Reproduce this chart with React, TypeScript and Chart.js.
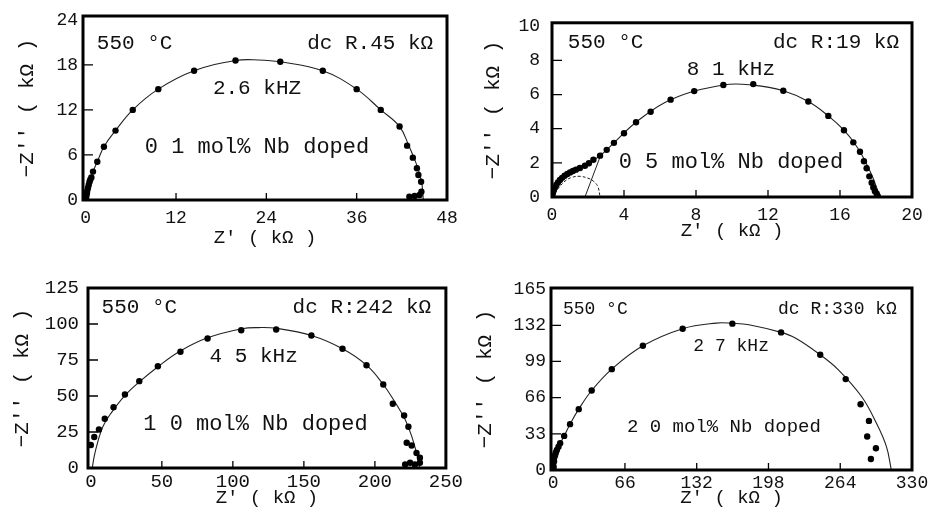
import React, { useEffect, useRef } from "react";
import { Chart, registerables } from "chart.js";
Chart.register(...registerables);

const FONT = "'Liberation Mono', 'DejaVu Sans Mono', monospace";

// ---------- Panel 1 : 0.1 mol% Nb ----------
const P1_X_TICKS = [0, 12, 24, 36, 48];
const P1_Y_TICKS = [0, 6, 12, 18, 24];
const P1_DOT_X = [0, 0.05, 0.1, 0.15, 0.2, 0.3, 0.4, 0.5, 0.6, 0.75, 0.97, 1.54, 2.42, 3.96, 6.25, 9.64, 14.4, 19.9, 25.85, 31.5, 36.0, 39.2, 41.7, 42.7, 43.46, 44.0, 44.2, 44.56, 44.6, 44.35, 43.7, 43.0];
const P1_DOT_Y = [0, 0.3, 0.6, 0.9, 1.2, 1.6, 2.0, 2.4, 2.7, 3.0, 3.78, 5.1, 7.1, 9.24, 12.0, 14.76, 17.2, 18.57, 18.4, 17.2, 14.76, 12.0, 9.78, 7.24, 5.64, 4.22, 3.33, 2.44, 1.1, 0.67, 0.53, 0.44];
const P1_FIT_X = [0.1, 0.5, 0.97, 1.54, 2.42, 3.96, 6.25, 9.64, 14.4, 19.9, 22.9, 25.85, 31.5, 36.0, 39.2, 41.7, 42.9, 43.7, 44.3, 44.7, 44.85];
const P1_FIT_Y = [0, 2.4, 3.78, 5.1, 7.1, 9.24, 12.0, 14.76, 17.2, 18.57, 18.65, 18.4, 17.2, 14.76, 12.0, 9.78, 7.3, 5.4, 3.7, 1.9, 0];

// ---------- Panel 2 : 0.5 mol% Nb ----------
const P2_X_TICKS = [0, 4, 8, 12, 16, 20];
const P2_Y_TICKS = [0, 2, 4, 6, 8, 10];
const P2_DOT_X = [0, 0.02, 0.05, 0.1, 0.16, 0.24, 0.33, 0.44, 0.56, 0.7, 0.85, 1.0, 1.16, 1.33, 1.55, 1.83, 2.05, 2.3, 2.67, 3.04, 3.44, 4.0, 4.67, 5.48, 6.59, 7.9, 9.52, 11.18, 12.85, 14.24, 15.35, 16.22, 16.74, 17.11, 17.33, 17.48, 17.63, 17.76, 17.85, 17.94, 18.04, 18.1];
const P2_DOT_Y = [0, 0.12, 0.25, 0.4, 0.55, 0.7, 0.85, 1.0, 1.12, 1.24, 1.35, 1.44, 1.52, 1.6, 1.7, 1.83, 1.98, 2.18, 2.42, 2.76, 3.17, 3.73, 4.38, 4.99, 5.7, 6.2, 6.56, 6.61, 6.22, 5.59, 4.75, 3.91, 3.2, 2.65, 2.09, 1.68, 1.21, 0.84, 0.56, 0.34, 0.19, 0.05];
const P2_FIT_X = [0, 0.1, 0.33, 0.7, 1.16, 1.83, 2.67, 3.44, 4.67, 6.59, 9.52, 11.18, 12.85, 14.24, 15.35, 16.22, 16.9, 17.4, 17.8, 18.05, 18.2];
const P2_FIT_Y = [0, 0.4, 0.85, 1.24, 1.52, 1.83, 2.42, 3.17, 4.38, 5.7, 6.56, 6.55, 6.22, 5.59, 4.75, 3.91, 3.0, 2.1, 1.2, 0.5, 0];
const P2_ARC_X = [0.3, 0.72, 1.1, 1.56, 2.0, 2.3, 2.55, 2.67];
const P2_ARC_Y = [0.45, 0.93, 1.15, 1.21, 1.1, 0.93, 0.6, 0];
const P2_ANGLE_X = [1.83, 2.76];
const P2_ANGLE_Y = [0, 2.6];

// ---------- Panel 3 : 1.0 mol% Nb ----------
const P3_X_TICKS = [0, 50, 100, 150, 200, 250];
const P3_Y_TICKS = [0, 25, 50, 75, 100, 125];
const P3_DOT_X = [0, 2.4, 5.7, 9.8, 16, 24, 34.1, 47.2, 63.1, 82.2, 105.9, 130.5, 155.3, 177.2, 194.1, 205.9, 212.6, 220.6, 223.6, 222.4, 225.9, 229.3, 231.7, 231.7, 228.2, 224.8, 221.3];
const P3_DOT_Y = [16, 21.5, 26.7, 34.2, 42.2, 51, 60.3, 70.7, 80.7, 89.9, 95.7, 96.2, 92, 82.8, 71.4, 58, 44.6, 36.5, 28.6, 17.5, 15.6, 10.5, 7.1, 3.6, 2.4, 3.6, 2.4];
const P3_FIT_X = [1, 2.4, 4.7, 8.6, 14.4, 23.6, 33.9, 47.7, 62.7, 82.2, 106.3, 118, 130.5, 155.3, 177.2, 194.1, 205.9, 214.4, 221.3, 225.9, 229.3, 231, 231.5];
const P3_FIT_Y = [0, 8.2, 17.5, 29, 38.3, 49.9, 59.6, 70.7, 81.1, 90.4, 96.7, 97.5, 97, 92, 82.8, 71.4, 58, 45.3, 33.7, 22.1, 10.5, 2.4, 0];

// ---------- Panel 4 : 2.0 mol% Nb ----------
const P4_X_TICKS = [0, 66, 132, 198, 264, 330];
const P4_Y_TICKS = [0, 33, 66, 99, 132, 165];
const P4_DOT_X = [0, 0.4, 0, 0.8, 0.3, 1.2, 1.8, 2.5, 3.4, 4.9, 6.4, 10.1, 15.5, 23.5, 35.4, 53.9, 82.5, 119.1, 164.8, 209.6, 245.6, 269, 282.7, 290.4, 288.8, 296.8, 292.2];
const P4_DOT_Y = [1.5, 3, 6.1, 8, 10.7, 12, 13.7, 16, 18.3, 21.3, 24.4, 31.1, 41.8, 55.5, 72.5, 92, 113.3, 128.9, 133.5, 125.5, 105.1, 82.9, 60, 44.8, 30.5, 19.8, 10];
const P4_FIT_X = [0, 1.8, 4.9, 10.1, 15.5, 23.5, 35.4, 53.9, 82.5, 119.1, 150, 164.8, 180, 209.6, 222.7, 245.6, 262.3, 283.6, 297.3, 306.5, 311];
const P4_FIT_Y = [0, 13.7, 21.3, 31.1, 41.8, 55.5, 72.5, 92, 113.3, 128.9, 134, 133.8, 132.5, 125.5, 120.4, 105.1, 91.4, 67, 42.7, 21.3, 0];

const X_TITLE = "Z' ( kΩ )";
const Y_TITLE = "−Z'' ( kΩ )";

const pts = (xs: number[], ys: number[]) => xs.map((x, i) => ({ x, y: ys[i] }));

type Note = { text: string; fx: number; fy: number; align: CanvasTextAlign; size: number };

type PanelCfg = {
  left: number; top: number;
  xMin: number; xMax: number; yMin: number; yMax: number;
  xTicks: number[]; yTicks: number[];
  dots: { x: number; y: number }[];
  fit: { x: number; y: number }[];
  extras?: any[];
  yAxisWidth: number; xAxisHeight: number; padRight: number; padTop: number;
  yTitlePad: number; xTitlePad: number; yTickPad: number; xTickPad: number;
  tickSize: number;
  notes: Note[];
};

const PANELS: PanelCfg[] = [
  {
    left: 0, top: 0, xMin: -0.36, xMax: 48, yMin: 0, yMax: 24.5,
    xTicks: P1_X_TICKS, yTicks: P1_Y_TICKS,
    dots: pts(P1_DOT_X, P1_DOT_Y), fit: pts(P1_FIT_X, P1_FIT_Y),
    yAxisWidth: 83, xAxisHeight: 64, padRight: 19, padTop: 16,
    yTitlePad: 15, xTitlePad: 15, yTickPad: 5, xTickPad: 7, tickSize: 18,
    notes: [
      { text: "550 °C", fx: 0.038, fy: 0.147, align: "left", size: 21 },
      { text: "dc R.45 kΩ", fx: 0.962, fy: 0.147, align: "right", size: 21 },
      { text: "2.6 kHZ", fx: 0.478, fy: 0.391, align: "center", size: 21 },
      { text: "0 1 mol% Nb doped", fx: 0.478, fy: 0.712, align: "center", size: 22 },
    ],
  },
  {
    left: 466, top: 0, xMin: 0, xMax: 20, yMin: 0, yMax: 10.2,
    xTicks: P2_X_TICKS, yTicks: P2_Y_TICKS,
    dots: pts(P2_DOT_X, P2_DOT_Y), fit: pts(P2_FIT_X, P2_FIT_Y),
    extras: [
      { data: pts(P2_ARC_X, P2_ARC_Y), showLine: true, borderColor: "#222", borderWidth: 1, borderDash: [3, 2], pointRadius: 0, tension: 0.4 },
      { data: pts(P2_ANGLE_X, P2_ANGLE_Y), showLine: true, borderColor: "#222", borderWidth: 1, pointRadius: 0 },
    ],
    yAxisWidth: 86, xAxisHeight: 67, padRight: 20, padTop: 14,
    yTitlePad: 15, xTitlePad: 22, yTickPad: 12, xTickPad: 7, tickSize: 18,
    notes: [
      { text: "550 °C", fx: 0.044, fy: 0.115, align: "left", size: 21 },
      { text: "dc R:19 kΩ", fx: 0.964, fy: 0.115, align: "right", size: 21 },
      { text: "8 1 kHz", fx: 0.497, fy: 0.268, align: "center", size: 21 },
      { text: "0 5 mol% Nb doped", fx: 0.497, fy: 0.798, align: "center", size: 22 },
    ],
  },
  {
    left: 0, top: 264, xMin: -2, xMax: 250, yMin: 0, yMax: 125,
    xTicks: P3_X_TICKS, yTicks: P3_Y_TICKS,
    dots: pts(P3_DOT_X, P3_DOT_Y), fit: pts(P3_FIT_X, P3_FIT_Y),
    yAxisWidth: 88, xAxisHeight: 60, padRight: 13, padTop: 24,
    yTitlePad: 10, xTitlePad: 19, yTickPad: 9, xTickPad: 3, tickSize: 19,
    notes: [
      { text: "550 °C", fx: 0.038, fy: 0.106, align: "left", size: 21 },
      { text: "dc R:242 kΩ", fx: 0.959, fy: 0.106, align: "right", size: 21 },
      { text: "4 5 kHz", fx: 0.463, fy: 0.378, align: "center", size: 21 },
      { text: "1 0 mol% Nb doped", fx: 0.468, fy: 0.756, align: "center", size: 22 },
    ],
  },
  {
    left: 466, top: 264, xMin: -2, xMax: 330, yMin: 0, yMax: 166,
    xTicks: P4_X_TICKS, yTicks: P4_Y_TICKS,
    dots: pts(P4_DOT_X, P4_DOT_Y), fit: pts(P4_FIT_X, P4_FIT_Y),
    yAxisWidth: 85, xAxisHeight: 58, padRight: 20, padTop: 24,
    yTitlePad: 7, xTitlePad: 19, yTickPad: 5, xTickPad: 2, tickSize: 18,
    notes: [
      { text: "550 °C", fx: 0.033, fy: 0.115, align: "left", size: 18 },
      { text: "dc R:330 kΩ", fx: 0.958, fy: 0.115, align: "right", size: 18 },
      { text: "2 7 kHz", fx: 0.499, fy: 0.319, align: "center", size: 18 },
      { text: "2 0 mol% Nb doped", fx: 0.479, fy: 0.764, align: "center", size: 19 },
    ],
  },
];

function Panel({ cfg }: { cfg: PanelCfg }) {
  const ref = useRef<HTMLCanvasElement | null>(null);
  useEffect(() => {
    if (!ref.current) return;
    const framePlugin = {
      id: "frame",
      afterDraw(chart: any) {
        const { ctx, chartArea: a, scales } = chart;
        ctx.save();
        ctx.strokeStyle = "#000";
        ctx.lineWidth = 3;
        ctx.strokeRect(a.left, a.top, a.right - a.left, a.bottom - a.top);
        ctx.lineWidth = 1.3;
        ctx.beginPath();
        scales.x.ticks.forEach((t: any) => {
          const px = scales.x.getPixelForValue(t.value);
          if (px > a.left + 4 && px < a.right - 4) {
            ctx.moveTo(px, a.bottom);
            ctx.lineTo(px, a.bottom - 7);
          }
        });
        scales.y.ticks.forEach((t: any) => {
          const py = scales.y.getPixelForValue(t.value);
          if (py > a.top + 4 && py < a.bottom - 4) {
            ctx.moveTo(a.left, py);
            ctx.lineTo(a.left + 10, py);
          }
        });
        ctx.stroke();
        ctx.fillStyle = "#111";
        ctx.textBaseline = "middle";
        cfg.notes.forEach((n) => {
          ctx.font = `${n.size}px ${FONT}`;
          ctx.textAlign = n.align;
          ctx.fillText(n.text, a.left + n.fx * (a.right - a.left), a.top + n.fy * (a.bottom - a.top));
        });
        ctx.restore();
      },
    };
    const chart = new Chart(ref.current, {
      type: "scatter",
      data: {
        datasets: [
          { data: cfg.dots, showLine: false, pointRadius: 3.2, pointBackgroundColor: "#000", pointBorderWidth: 0, pointBorderColor: "#000" },
          { data: cfg.fit, showLine: true, borderColor: "#222", borderWidth: 1.1, pointRadius: 0, tension: 0.4 },
          ...(cfg.extras || []),
        ] as any,
      },
      options: {
        animation: false,
        responsive: false,
        events: [],
        layout: { padding: { left: 0, right: cfg.padRight, top: cfg.padTop, bottom: 0 } },
        plugins: { legend: { display: false }, tooltip: { enabled: false } },
        scales: {
          x: {
            type: "linear",
            min: cfg.xMin, max: cfg.xMax,
            afterBuildTicks: (s: any) => { s.ticks = cfg.xTicks.map((v) => ({ value: v })); },
            afterFit: (s: any) => { s.height = cfg.xAxisHeight; },
            grid: { display: false, drawTicks: false },
            border: { display: false },
            ticks: { color: "#111", font: { family: FONT, size: cfg.tickSize }, padding: cfg.xTickPad, maxRotation: 0, autoSkip: false, callback: (v: any) => String(v) },
            title: { display: true, text: X_TITLE, color: "#111", font: { family: FONT, size: 19 }, padding: { top: 0, bottom: cfg.xTitlePad } },
          },
          y: {
            type: "linear",
            min: cfg.yMin, max: cfg.yMax,
            afterBuildTicks: (s: any) => { s.ticks = cfg.yTicks.map((v) => ({ value: v })); },
            afterFit: (s: any) => { s.width = cfg.yAxisWidth; },
            grid: { display: false, drawTicks: false },
            border: { display: false },
            ticks: { color: "#111", font: { family: FONT, size: cfg.tickSize }, padding: cfg.yTickPad, autoSkip: false, callback: (v: any) => String(v) },
            title: { display: true, text: Y_TITLE, color: "#111", font: { family: FONT, size: 21 }, padding: { top: cfg.yTitlePad, bottom: 0 } },
          },
        },
      } as any,
      plugins: [framePlugin],
    });
    return () => chart.destroy();
  }, [cfg]);
  return (
    <div style={{ position: "absolute", left: cfg.left, top: cfg.top, width: 466, height: 264 }}>
      <canvas ref={ref} width={466} height={264} style={{ display: "block", width: 466, height: 264 }} />
    </div>
  );
}

export default function App() {
  return (
    <div style={{ position: "absolute", left: 0, top: 0, width: 932, height: 528, background: "#fff" }}>
      {PANELS.map((p, i) => (
        <Panel key={i} cfg={p} />
      ))}
    </div>
  );
}
